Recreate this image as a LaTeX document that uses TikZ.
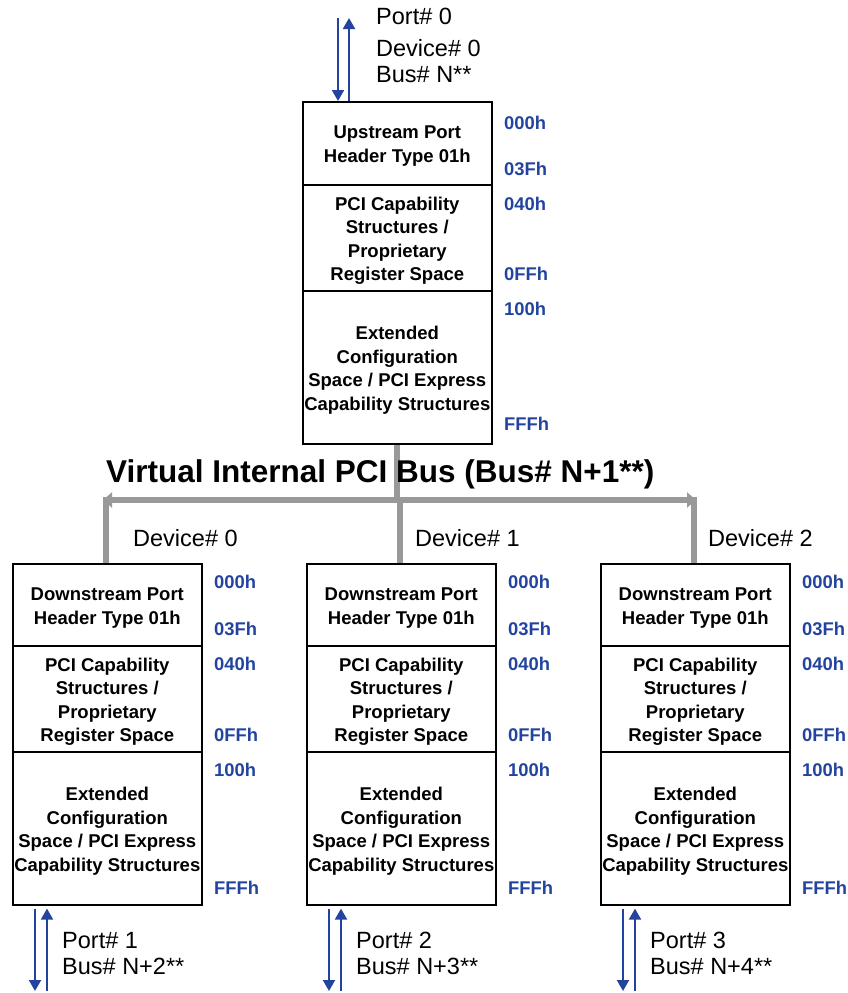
\documentclass[tikz,border=0pt]{standalone}
\usepackage{fontspec}
\setmainfont{Liberation Sans}
\usetikzlibrary{arrows.meta}
\definecolor{addrblue}{RGB}{34,68,158}
\definecolor{busgray}{RGB}{153,153,153}
\begin{document}
\begin{tikzpicture}[x=1pt,y=-1pt,
  sect/.style={draw=black, line width=1.6pt, minimum width=189pt, inner sep=0pt, anchor=north west},
  secttxt/.style={align=center, inner sep=0pt, yshift=-3pt,
    font=\fontsize{18.5}{23.5}\selectfont\bfseries},
  addr/.style={text=addrblue, font=\fontsize{18.4}{22}\selectfont\bfseries, inner sep=0pt, anchor=west},
  lbl/.style={font=\fontsize{23.5}{28}\selectfont, inner sep=0pt, anchor=base west},
  link/.style={draw=addrblue, line width=2pt, -{Triangle[length=11pt,width=12pt]}},
  bus/.style={draw=busgray, line width=6pt},
  bustip/.style={bus, {Triangle[length=9pt,width=15pt]}-{Triangle[length=9pt,width=15pt]}}
]
\useasboundingbox (0,0) rectangle (847,993);

% upstream port
\node[sect, minimum height=83pt, label={[secttxt, name=u1t]center:{Upstream Port\\Header Type 01h}}]  (u1) at (302,101) {};
\node[sect, minimum height=106pt, label={[secttxt, name=u2t]center:{PCI Capability\\Structures /\\Proprietary\\Register Space}}] (u2) at (302,184) {};
\node[sect, minimum height=153pt, label={[secttxt, name=u3t]center:{Extended\\Configuration\\Space / PCI Express\\Capability Structures}}] (u3) at (302,290) {};

\foreach \t/\y/\n in {000h/123/1,03Fh/169/2,040h/204/3,0FFh/274/4,100h/309/5,FFFh/424/6}
  \node[addr] (ua\n) at (504,\y) {\t};

\coordinate (p0a) at (338,18);
\coordinate (p0b) at (349,18);
\draw[link] (p0a) -- (p0a |- u1.north);
\draw[link] (u1.north -| p0b) -- (p0b);
\node[lbl] (up0) at (376,24) {Port\# 0};
\node[lbl] (up1) at (376,56) {Device\# 0};
\node[lbl] (up2) at (376,82) {Bus\# N**};

% bus
\coordinate (busL) at (103,500);
\coordinate (busR) at (696,500);
\draw[bus] (u3.south) -- (u3.south |- busL);
\draw[bustip] (busL) -- (busR);
\node[font=\fontsize{31.5}{36}\selectfont\bfseries, inner sep=0pt, anchor=base west] (title) at (106,482)
  {Virtual Internal PCI Bus (Bus\# N+1**)};

% downstream ports
\foreach \i/\x/\dx/\port/\bus in {1/12/133/1/2,2/306/415/2/3,3/600/708/3/4}{
  \node[sect, minimum height=82pt, label={[secttxt, name=d\i at]center:{Downstream Port\\Header Type 01h}}]  (d\i a) at (\x,563) {};
  \node[sect, minimum height=106pt, label={[secttxt, name=d\i bt]center:{PCI Capability\\Structures /\\Proprietary\\Register Space}}] (d\i b) at (\x,645) {};
  \node[sect, minimum height=153pt, label={[secttxt, name=d\i ct]center:{Extended\\Configuration\\Space / PCI Express\\Capability Structures}}] (d\i c) at (\x,751) {};
  \foreach \t/\y/\n in {000h/582/1,03Fh/629/2,040h/664/3,0FFh/735/4,100h/770/5,FFFh/888/6}
    \node[addr] (da\i-\n) at (\x+202,\y) {\t};
  \draw[bus] (d\i a.north -| {(\x+94,0)}) -- ({\x+94},497);
  \node[lbl] (dev\i) at (\dx,546) {Device\# \the\numexpr\i-1\relax};
  \coordinate (q\i a) at (\x+23,991);
  \coordinate (q\i b) at (\x+35,991);
  \draw[link] (q\i a |- d\i c.south) ++(0,3) -- (q\i a);
  \draw[link] (q\i b) -- ([yshift=-3pt]d\i c.south -| q\i b);
  \node[lbl] (pp\i) at (\x+50,948) {Port\# \port};
  \node[lbl] (pb\i) at (\x+50,974) {Bus\# N+\bus**};
}
\end{tikzpicture}
\end{document}
